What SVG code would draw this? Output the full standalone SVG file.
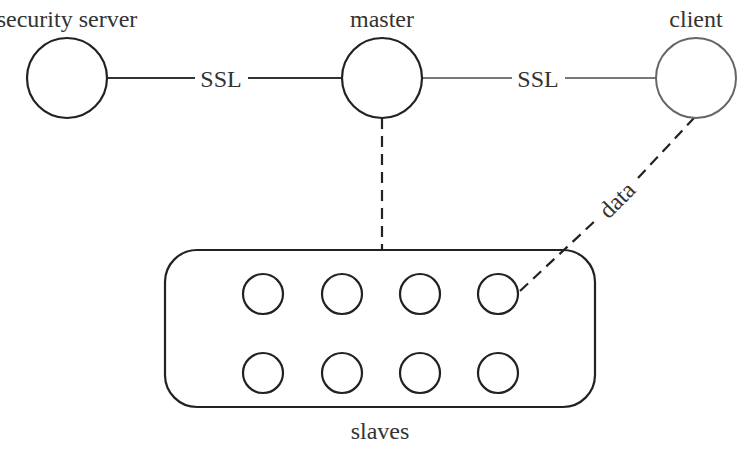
<svg xmlns="http://www.w3.org/2000/svg" width="739" height="459" viewBox="0 0 739 459">
<style>
.n{fill:#fff;stroke:#222;stroke-width:2.2}
.g{fill:#fff;stroke:#666;stroke-width:2}
.s{fill:none;stroke:#222;stroke-width:2.2}
text{font-family:"Liberation Serif","Times New Roman",serif;font-size:24px;fill:#333;text-anchor:middle}
.c{stroke:#333;stroke-width:2.2;fill:none}
.cg{stroke:#777;stroke-width:1.8;fill:none}
.d{stroke:#222;stroke-width:2.2;fill:none;stroke-dasharray:11 7}
</style>
<rect width="739" height="459" fill="#fff"/>
<g id="connectors">
<line class="c" x1="108" y1="78" x2="195" y2="78"/>
<line class="c" x1="248" y1="78" x2="341" y2="78"/>
<line class="cg" x1="422" y1="78" x2="512" y2="78"/>
<line class="cg" x1="565" y1="78" x2="656" y2="78"/>
<text x="221" y="87">SSL</text>
<text x="538" y="87">SSL</text>
<line class="d" x1="382" y1="118" x2="382" y2="250"/>
<line class="d" x1="520" y1="291" x2="596" y2="220"/>
<line class="d" x1="638" y1="178" x2="694" y2="118"/>
<text x="617" y="208" transform="rotate(-45 617 200)">data</text>
</g>
<g id="security-server">
<circle class="n" cx="67" cy="78" r="40"/>
<text x="67" y="27">security server</text>
</g>
<g id="master">
<circle class="n" cx="382" cy="78" r="40"/>
<text x="382" y="27">master</text>
</g>
<g id="client">
<circle class="g" cx="696" cy="78" r="40"/>
<text x="696" y="27">client</text>
</g>
<g id="slaves">
<rect class="s" x="165" y="250" width="430" height="157" rx="32"/>
<circle class="n" cx="263" cy="294" r="20"/>
<circle class="n" cx="342" cy="294" r="20"/>
<circle class="n" cx="420" cy="294" r="20"/>
<circle class="n" cx="498" cy="294" r="20"/>
<circle class="n" cx="263" cy="373" r="20"/>
<circle class="n" cx="342" cy="373" r="20"/>
<circle class="n" cx="420" cy="373" r="20"/>
<circle class="n" cx="498" cy="373" r="20"/>
<text x="380" y="439">slaves</text>
</g>
</svg>
